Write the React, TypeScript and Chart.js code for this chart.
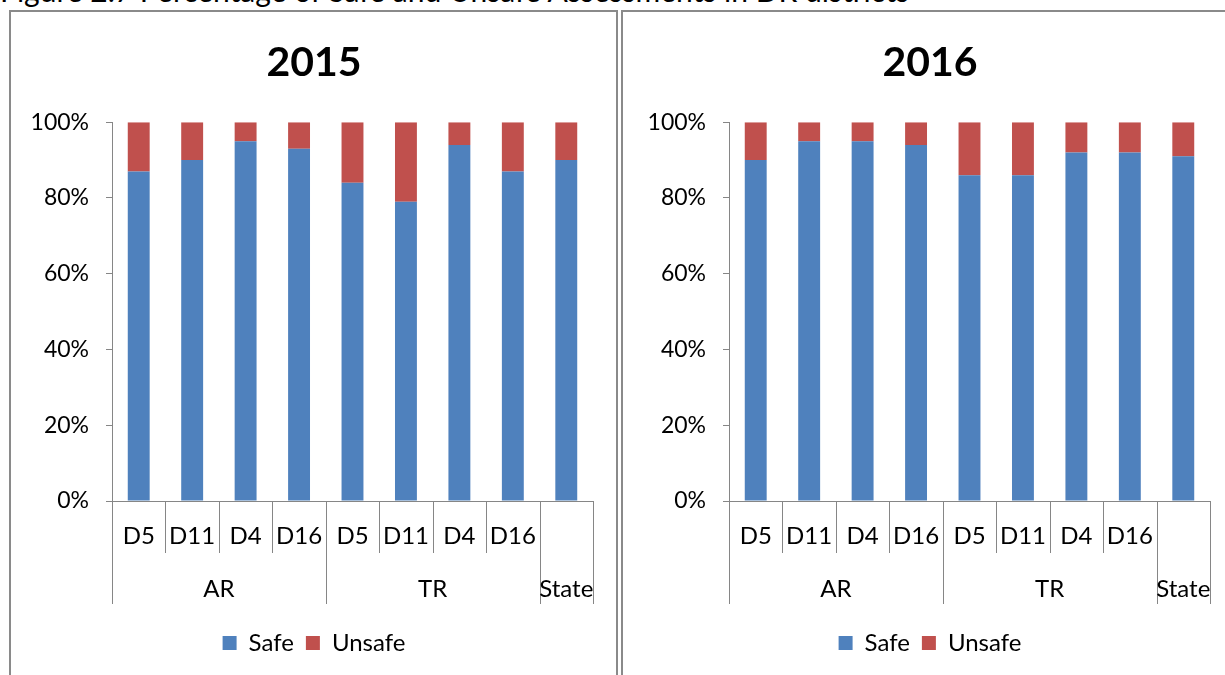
import React, { useEffect, useRef } from "react";
import { Chart, registerables } from "chart.js";

Chart.register(...registerables);

const districts = ["D5", "D11", "D4", "D16", "D5", "D11", "D4", "D16", ""];
const regions = ["AR", "AR", "AR", "AR", "TR", "TR", "TR", "TR", "State"];
const safe2015 = [87, 90, 95, 93, 84, 79, 94, 87, 90];
const unsafe2015 = [13, 10, 5, 7, 16, 21, 6, 13, 10];
const safe2016 = [90, 95, 95, 94, 86, 86, 92, 92, 91];
const unsafe2016 = [10, 5, 5, 6, 14, 14, 8, 8, 9];
const yTicks = [0, 20, 40, 60, 80, 100];
const caption = "Figure 2.7 Percentage of Safe and Unsafe Assessments in DR districts";

const FONT = "Lato, 'Open Sans', sans-serif";
const AXIS = "#868686";

const groupAxisPlugin = {
  id: "groupAxis",
  afterDraw(chart: any) {
    const x = chart.scales.x;
    const ctx = chart.ctx;
    const y0 = x.top;
    const n = districts.length;
    const px = (i: number) => x.getPixelForValue(i);
    const boundary = (i: number) =>
      i === 0 ? x.left : i === n ? x.right : (px(i - 1) + px(i)) / 2;
    ctx.save();
    ctx.strokeStyle = AXIS;
    ctx.lineWidth = 1;
    for (let i = 0; i <= n; i++) {
      const long = i === 0 || i === n || regions[i] !== regions[i - 1];
      const bx = Math.round(boundary(i)) + 0.5;
      ctx.beginPath();
      ctx.moveTo(bx, y0);
      ctx.lineTo(bx, y0 + (long ? 103 : 52));
      ctx.stroke();
    }
    ctx.fillStyle = "#000";
    ctx.font = `24px ${FONT}`;
    ctx.textAlign = "center";
    ctx.textBaseline = "middle";
    for (let i = 0; i < n; i++) {
      if (districts[i]) ctx.fillText(districts[i], px(i), y0 + 35);
    }
    let start = 0;
    for (let i = 1; i <= n; i++) {
      if (i === n || regions[i] !== regions[start]) {
        const cx = (boundary(start) + boundary(i)) / 2;
        ctx.fillText(regions[start], cx, y0 + 88);
        start = i;
      }
    }
    ctx.restore();
  },
};

function BarPanel(props: { title: string; safe: number[]; unsafe: number[]; yWidth: number; padRight: number; width: number }) {
  const ref = useRef<HTMLCanvasElement>(null);
  useEffect(() => {
    const chart = new Chart(ref.current!, {
      type: "bar",
      data: {
        labels: districts.map((d, i) => `${regions[i]} ${d}`.trim()),
        datasets: [
          { label: "Safe", data: props.safe, backgroundColor: "#4F81BD", barPercentage: 0.41, categoryPercentage: 1 },
          { label: "Unsafe", data: props.unsafe, backgroundColor: "#C0504D", barPercentage: 0.41, categoryPercentage: 1 },
        ],
      },
      options: {
        animation: false,
        responsive: false,
        maintainAspectRatio: false,
        layout: { padding: { left: 0, right: 0, top: 0, bottom: 10 } },
        plugins: {
          title: {
            display: true,
            text: props.title,
            color: "#000",
            font: { family: FONT, size: 41, weight: "bold" },
            padding: { top: 26, bottom: 35 },
          },
          legend: {
            position: "bottom",
            labels: {
              color: "#000",
              font: { family: FONT, size: 24 },
              boxWidth: 14,
              boxHeight: 14,
              padding: 12,
            },
          },
          tooltip: { enabled: false },
        },
        scales: {
          x: {
            stacked: true,
            grid: { display: false },
            ticks: { display: false },
            border: { display: true, color: AXIS, width: 1 },
            afterFit: (s: any) => {
              s.height = 118;
            },
          },
          y: {
            stacked: true,
            min: 0,
            max: 100,
            afterBuildTicks: (s: any) => {
              s.ticks = yTicks.map((v) => ({ value: v }));
            },
            ticks: {
              color: "#000",
              font: { family: FONT, size: 23 },
              padding: 17,
              callback: (v: any) => `${v}%`,
            },
            grid: { drawOnChartArea: false, drawTicks: true, tickLength: 6, color: AXIS },
            border: { display: true, color: AXIS, width: 1 },
            afterFit: (s: any) => {
              s.width = props.yWidth;
            },
          },
          pad: {
            type: "linear",
            position: "right",
            display: true,
            grid: { display: false },
            ticks: { display: false },
            border: { display: false },
            afterFit: (s: any) => {
              s.width = props.padRight;
            },
          },
        },
      },
      plugins: [groupAxisPlugin],
    } as any);
    return () => chart.destroy();
  }, []);
  return <canvas ref={ref} width={props.width} height={663} style={{ display: "block" }} />;
}

export default function App() {
  return (
    <div style={{ position: "fixed", left: 0, top: 0, width: 1225, height: 675, overflow: "hidden", background: "#fff" }}>
      <div
        style={{
          position: "absolute",
          left: 0,
          top: -25,
          fontFamily: FONT,
          fontSize: 30,
          lineHeight: "30px",
          whiteSpace: "nowrap",
          color: "#000",
        }}
      >
        {caption}
      </div>
      <div style={{ position: "absolute", left: 9, top: 10, width: 605, height: 700, border: "2px solid #8a8a8a", borderBottom: "none" }} />
      <div style={{ position: "absolute", left: 621, top: 10, width: 640, height: 700, border: "2px solid #8a8a8a", borderBottom: "none" }} />
      <div style={{ position: "absolute", left: 12, top: 12 }}>
        <BarPanel title="2015" safe={safe2015} unsafe={unsafe2015} yWidth={100} padRight={23} width={604} />
      </div>
      <div style={{ position: "absolute", left: 624, top: 12 }}>
        <BarPanel title="2016" safe={safe2016} unsafe={unsafe2016} yWidth={105} padRight={26} width={612} />
      </div>
    </div>
  );
}
